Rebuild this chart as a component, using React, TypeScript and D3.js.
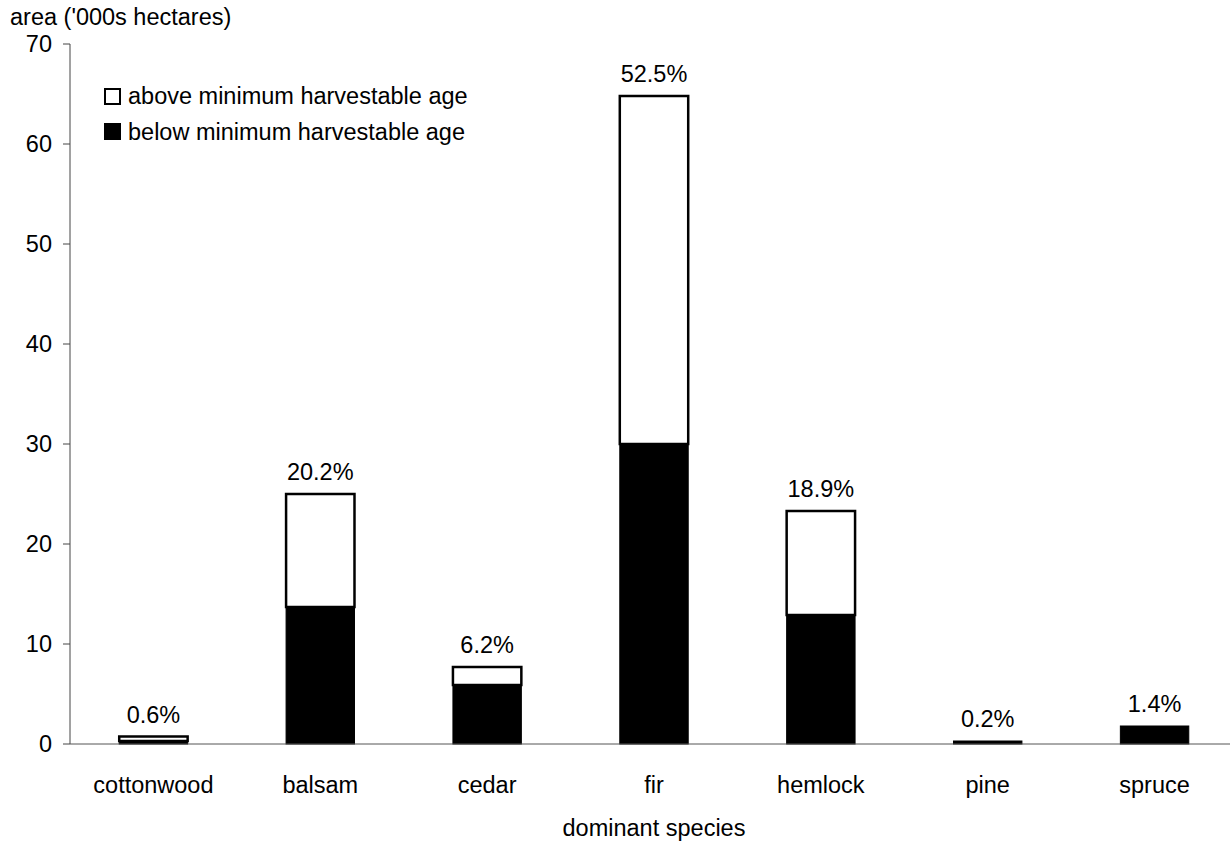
import React from "react";
import * as d3 from "d3";

const categories = ["cottonwood", "balsam", "cedar", "fir", "hemlock", "pine", "spruce"];
const belowValues = [0.3, 13.7, 5.9, 30.0, 12.9, 0.3, 1.8];
const aboveValues = [0.45, 11.3, 1.8, 34.8, 10.4, 0, 0];
const percentLabels = ["0.6%", "20.2%", "6.2%", "52.5%", "18.9%", "0.2%", "1.4%"];
const yTicks = [0, 10, 20, 30, 40, 50, 60, 70];
const seriesNames = ["above minimum harvestable age", "below minimum harvestable age"];

const W = 1230;
const H = 841;
const FONT = "Arial, 'Liberation Sans', Helvetica, sans-serif";
const FS = 23.5;

export default function App() {
  const x = d3.scaleBand<string>().domain(categories).range([70, 1238]).padding(0);
  const y = d3.scaleLinear().domain([0, 70]).range([744, 44]);
  const bw = x.bandwidth() * 0.41;

  const stackData = categories.map((c, i) => ({ cat: c, below: belowValues[i], above: aboveValues[i] }));
  const stack = d3.stack<any>().keys(["below", "above"]);
  const layers = stack(stackData);

  return (
    <svg width={W} height={H} style={{ position: "absolute", left: 0, top: 0, background: "#fff" }} fontFamily={FONT}>
      <rect x={0} y={0} width={W} height={H} fill="#fff" />
      {/* y axis title */}
      <text x={10} y={25} fontSize={FS} fill="#000">area ('000s hectares)</text>
      {/* y axis */}
      <line x1={70} x2={70} y1={y(70)} y2={y(0)} stroke="#444" strokeWidth={1} />
      {yTicks.map((t) => (
        <g key={t}>
          <line x1={63} x2={70} y1={y(t)} y2={y(t)} stroke="#444" strokeWidth={1} />
          <text x={52} y={y(t)} dy="0.35em" textAnchor="end" fontSize={FS} fill="#000">{t}</text>
        </g>
      ))}
      {/* bars */}
      {layers.map((layer) => (
        <g key={layer.key}>
          {layer.map((d: any, i: number) => {
            const v = d[1] - d[0];
            if (v <= 0) return null;
            const cx = (x(categories[i]) as number) + x.bandwidth() / 2;
            const isAbove = layer.key === "above";
            return (
              <rect
                key={i}
                x={cx - bw / 2}
                y={y(d[1])}
                width={bw}
                height={y(d[0]) - y(d[1])}
                fill={isAbove ? "#fff" : "#000"}
                stroke="#000"
                strokeWidth={isAbove ? 2.5 : 1}
              />
            );
          })}
        </g>
      ))}
      {/* x axis */}
      <line x1={70} x2={1238} y1={y(0)} y2={y(0)} stroke="#555" strokeWidth={1} />
      {/* percent labels */}
      {categories.map((c, i) => {
        const cx = (x(c) as number) + x.bandwidth() / 2;
        const top = y(belowValues[i] + aboveValues[i]);
        return (
          <text key={c} x={cx} y={top - 14} textAnchor="middle" fontSize={FS} fill="#000">{percentLabels[i]}</text>
        );
      })}
      {/* category labels */}
      {categories.map((c) => (
        <text key={c} x={(x(c) as number) + x.bandwidth() / 2} y={793} textAnchor="middle" fontSize={FS} fill="#000">{c}</text>
      ))}
      <text x={654} y={836} textAnchor="middle" fontSize={FS} fill="#000">dominant species</text>
      {/* legend */}
      <rect x={105} y={89} width={15} height={15} fill="#fff" stroke="#000" strokeWidth={2} />
      <text x={128} y={104} fontSize={FS} fill="#000">{seriesNames[0]}</text>
      <rect x={104} y={123} width={17} height={17} fill="#000" />
      <text x={128} y={140} fontSize={FS} fill="#000">{seriesNames[1]}</text>
    </svg>
  );
}
